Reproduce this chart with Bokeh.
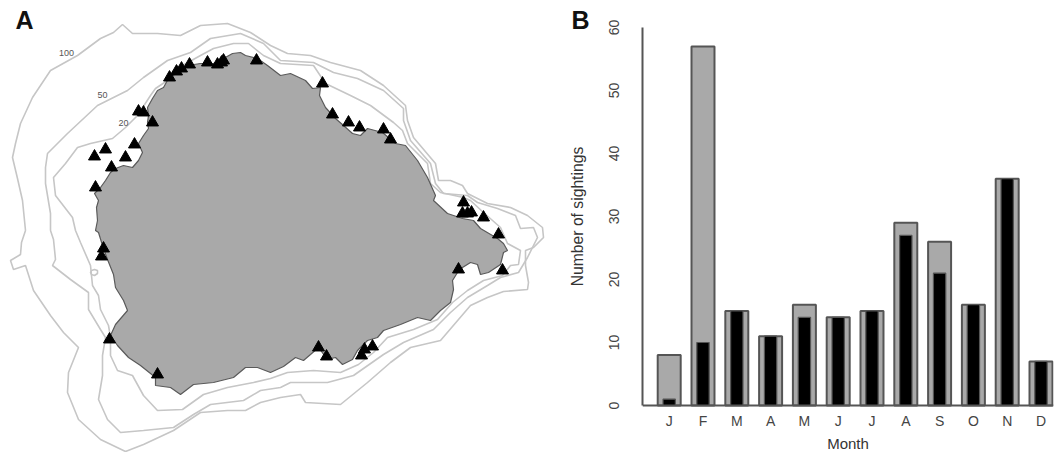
import math
from bokeh.plotting import figure
from bokeh.layouts import row
from bokeh.models import Range1d, FixedTicker, Label
from bokeh.embed import file_html
from bokeh.resources import INLINE

# Panel B data
months = ["J", "F", "M", "A", "M", "J", "J", "A", "S", "O", "N", "D"]
month_pos = list(range(1, 13))
sightings_total = [8, 57, 15, 11, 16, 14, 15, 29, 26, 16, 36, 7]
sightings_black = [1, 10, 15, 11, 14, 14, 15, 27, 21, 16, 36, 7]
y_ticks = [0, 10, 20, 30, 40, 50, 60]

# Panel A data (map coordinates)
coast_x = [95,97,96,98,94,100,105,110,115,123,132,138,142,138,143,148,147,148,147,152,157,163,168,177,187,200,213,223,232,240,245,257,267,
           280,290,305,312,320,319,325,335,343,352,360,367,382,395,405,417,427,435,433,447,462,473,480,497,503,507,503,500,488,480,477,470,462,457,452,453,450,440,430,417,400,383,377,367,357,352,342,335,327,318,310,303,295,283,
           270,257,245,233,213,193,180,170,155,155,140,128,117,110,115,127,123,115,113,107,102,98,95]
coast_y = [230,220,207,200,193,187,180,172,168,165,167,160,152,143,135,128,122,115,107,98,90,87,78,72,65,63,63,58,53,52,55,58,65,
           75,73,80,88,87,95,107,118,125,133,135,128,132,143,145,160,177,195,200,213,218,220,228,238,243,250,252,264,272,274,264,262,267,272,280,289,302,310,320,317,324,330,337,340,350,359,364,357,359,347,354,360,357,366,
           372,367,367,377,382,384,394,387,385,377,365,357,345,335,324,310,300,287,274,259,245,232,230]

c100_x = [25,22,17,12,15,20,32,50,77,100,113,122,132,157,180,200,227,250,270,287,310,330,360,383,405,407,413,435,438,450,462,467,487,510,527,542,543,533,525,525,528,527,503,487,470,458,440,410,390,367,340,305,300,280,260,245,227,200,173,143,125,100,78,67,68,78,63,50,33,25,13,10,20,21,25]
c100_y = [230,200,178,157,143,123,97,70,55,38,32,24,33,33,35,25,23,32,45,53,55,62,70,85,105,120,137,163,180,180,185,193,203,207,215,227,237,247,250,265,282,289,291,297,305,319,340,347,362,382,404,402,394,397,402,410,410,412,430,444,451,439,419,392,372,347,332,315,290,265,269,260,254,242,230]

c50_x = [50,50,45,45,47,67,97,127,143,167,190,210,240,263,280,313,333,357,383,403,403,410,430,435,443,467,477,497,515,520,533,537,527,518,500,487,467,450,433,403,383,353,327,290,280,260,243,210,193,173,143,120,107,98,102,102,105,100,88,88,70,52,55,53,50]
c50_y = [230,213,183,167,153,133,105,90,77,60,52,38,33,43,60,62,72,78,90,108,120,140,163,183,193,195,202,208,215,228,227,237,257,272,277,285,297,312,329,342,354,375,382,382,387,390,400,404,414,427,430,432,419,399,375,355,337,329,309,292,279,265,259,239,230]

c20_x = [75,72,55,53,65,77,90,112,125,137,150,155,167,173,200,213,233,248,263,280,313,325,350,370,393,402,407,427,430,440,463,470,483,500,507,520,518,510,502,483,467,452,437,413,387,373,358,340,313,287,270,253,227,203,182,157,143,132,117,110,110,108,100,98,92,90,80,75]
c20_y = [230,217,195,177,163,147,143,138,127,115,95,88,80,70,55,48,43,43,55,63,65,83,95,105,122,130,143,163,183,192,197,200,212,227,243,250,264,265,275,280,290,302,319,329,337,352,364,372,370,372,378,382,387,394,409,410,395,375,370,355,337,325,309,295,285,265,242,230]

loop_x = [91,94,97,97,94,91,90,91]
loop_y = [270,269,270,273,275,274,272,270]

tri_x = [94,105,125,111,134,95,152,138,143,169,176,181,189,207,217,221,223,256,322,332,348,359,383,390,463,462,467,471,483,498,103,101,109,157,458,502,318,326,372,364,361]
tri_y = [156,149,157,167,144,187,122,111,112,77,71,68,64,62,64,62,60,60,83,114,122,127,129,139,202,213,213,212,217,234,248,256,339,374,269,270,347,356,346,349,355]

contour_labels = ["100", "50", "20"]
label_x = [66, 102, 123]
label_y = [52, 94, 122]

FONT = "Liberation Sans"
GRAY = "#a9a9a9"
EDGE = "#555555"
CONTOUR = "#c6c6c6"

# Map panel (also holds the panel letters and the rotated y title, left of the bar panel)
m = figure(width=590, height=452, x_range=Range1d(0, 590), y_range=Range1d(452, 0),
           output_backend="svg", toolbar_location=None, min_border=0)
m.axis.visible = False
m.grid.visible = False
m.outline_line_color = None
for cx, cy in [(c100_x, c100_y), (c50_x, c50_y), (c20_x, c20_y), (loop_x, loop_y)]:
    m.line(cx, cy, line_color=CONTOUR, line_width=1.6)
m.patch(coast_x, coast_y, fill_color=GRAY, line_color="#5a5a5a", line_width=1.2)
m.scatter(tri_x, tri_y, marker="triangle", size=12, fill_color="black", line_color="black")
for t, x, y in zip(contour_labels, label_x, label_y):
    m.add_layout(Label(x=x, y=y, text=t, text_font=FONT, text_font_size="9px", text_color="#555555",
                       text_align="center", text_baseline="middle"))
for t, x in [("A", 15), ("B", 571)]:
    m.add_layout(Label(x=x, y=19, text=t, text_font=FONT, text_font_style="bold", text_font_size="25px",
                       text_color="#111111", text_align="left", text_baseline="middle"))
m.add_layout(Label(x=577, y=216, text="Number of sightings", angle=math.pi / 2, text_font=FONT,
                   text_font_size="15.7px", text_color="#333333", text_align="center", text_baseline="middle"))

# Bar panel: frame fills the full height so the two panels stay aligned
p = figure(width=471, height=452, x_range=Range1d(0.21, 12.37), y_range=Range1d(-7.46, 64.29),
           output_backend="svg", toolbar_location=None,
           min_border_left=52, min_border_right=8, min_border_top=0, min_border_bottom=0)
p.grid.visible = False
p.outline_line_color = None
p.vbar(x=month_pos, top=sightings_total, bottom=0, width=0.68, fill_color=GRAY, line_color=EDGE, line_width=2)
p.vbar(x=month_pos, top=sightings_black, bottom=0, width=0.365, fill_color="black", line_color=EDGE, line_width=1.2)

p.yaxis.ticker = FixedTicker(ticks=y_ticks)
p.yaxis.bounds = (0, 60)
p.yaxis.minor_tick_line_color = None
p.yaxis.major_tick_in = 0
p.yaxis.major_tick_out = 10
p.yaxis.major_label_orientation = "vertical"
p.yaxis.major_label_standoff = 13

p.xaxis.fixed_location = 0
p.xaxis.ticker = FixedTicker(ticks=month_pos)
p.xaxis.major_label_overrides = dict(zip(month_pos, months))
p.xaxis.minor_tick_line_color = None
p.xaxis.major_tick_in = 0
p.xaxis.major_tick_out = 0
p.xaxis.major_label_standoff = 7
p.xaxis.axis_label = "Month"
p.xaxis.axis_label_standoff = 3

for ax in (p.xaxis, p.yaxis):
    ax.axis_line_color = EDGE
    ax.axis_line_width = 2
    ax.major_tick_line_color = EDGE if ax is p.yaxis else None
    ax.major_tick_line_width = 2
    ax.major_label_text_font = FONT
    ax.major_label_text_font_size = "14px"
    ax.major_label_text_color = "#444444"
    ax.axis_label_text_font = FONT
    ax.axis_label_text_font_size = "15px"
    ax.axis_label_text_font_style = "normal"
    ax.axis_label_text_color = "#333333"

layout = row(m, p)
open("out.html", "w").write(file_html(layout, INLINE))
